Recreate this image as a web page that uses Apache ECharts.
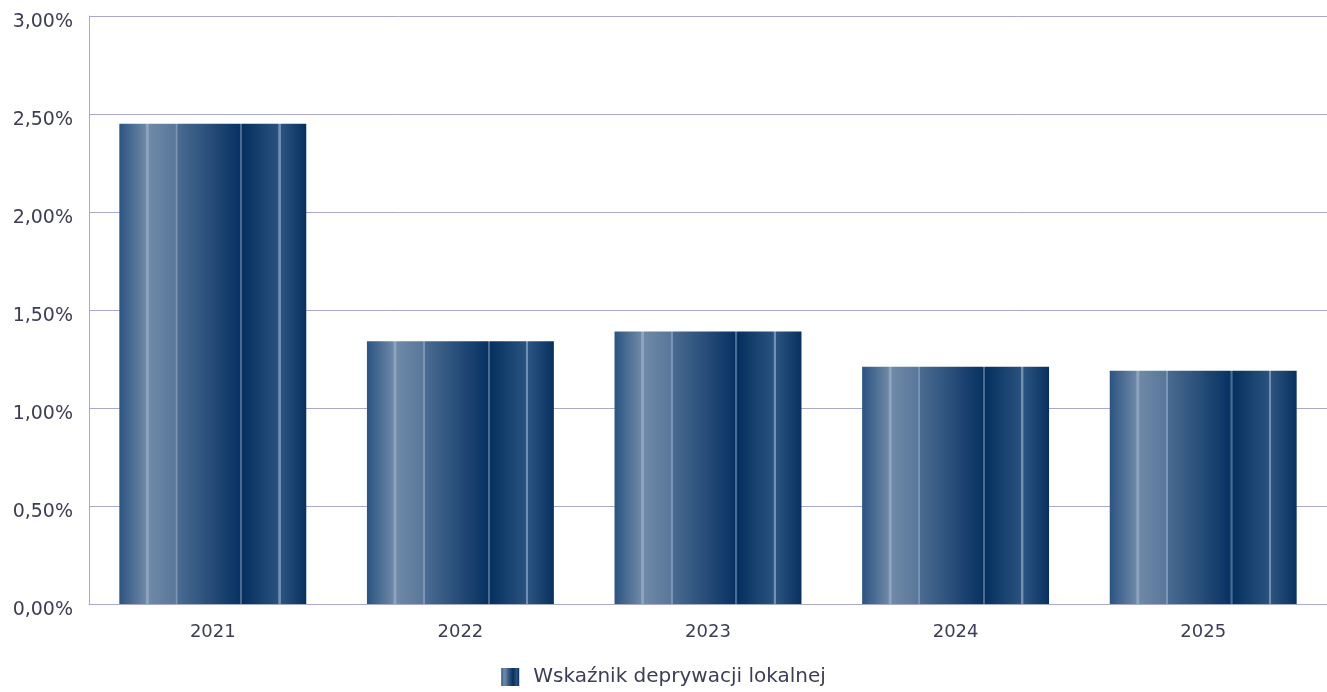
<!DOCTYPE html>
<html>
<head>
<meta charset="utf-8">
<script src="https://cdn.jsdelivr.net/npm/echarts@6/dist/echarts.min.js"></script>
<style>
html,body{margin:0;padding:0;background:#fff;}
#c{width:1327px;height:692px;}
</style>
</head>
<body>
<div id="c"></div>
<script>
const categories = ['2021', '2022', '2023', '2024', '2025'];
const values = [2.45, 1.34, 1.39, 1.21, 1.19];
const seriesName = 'Wskaźnik deprywacji lokalnej';
const yTicks = { min: 0, max: 3, interval: 0.5 };

const barGradient = new echarts.graphic.LinearGradient(0, 0, 1, 0, [
  { offset: 0.00, color: '#2b5482' },
  { offset: 0.140, color: '#6d87a6' },
  { offset: 0.145, color: '#8ea4be' },
  { offset: 0.155, color: '#8ea4be' },
  { offset: 0.160, color: '#6f89a7' },
  { offset: 0.300, color: '#59779a' },
  { offset: 0.302, color: '#7d95b2' },
  { offset: 0.310, color: '#7d95b2' },
  { offset: 0.312, color: '#4a6b91' },
  { offset: 0.645, color: '#073262' },
  { offset: 0.647, color: '#4a6c93' },
  { offset: 0.656, color: '#4a6c93' },
  { offset: 0.658, color: '#05305f' },
  { offset: 0.850, color: '#29527e' },
  { offset: 0.852, color: '#7390b0' },
  { offset: 0.862, color: '#7390b0' },
  { offset: 0.864, color: '#2b5481' },
  { offset: 1.00, color: '#07305e' }
]);

const chart = echarts.init(document.getElementById('c'));
const textColor = '#3d3d55';
const font = '"DejaVu Sans", Verdana, sans-serif';
chart.setOption({
  animation: false,
  backgroundColor: '#ffffff',
  grid: { left: 89, right: 0, top: 16, bottom: 88, containLabel: false },
  legend: {
    bottom: 0,
    left: 'center',
    itemWidth: 18,
    itemHeight: 18,
    itemGap: 10,
    icon: 'rect',
    textStyle: { color: textColor, fontSize: 20, fontFamily: font, padding: [0, 0, 0, 9] },
    data: [seriesName]
  },
  xAxis: {
    type: 'category',
    data: categories,
    axisLine: { show: true, lineStyle: { color: '#a9a9cc', width: 1 } },
    axisTick: { show: false },
    axisLabel: { color: textColor, fontSize: 18, fontFamily: font, margin: 19 }
  },
  yAxis: {
    type: 'value',
    min: yTicks.min,
    max: yTicks.max,
    interval: yTicks.interval,
    axisLine: { show: true, lineStyle: { color: '#a9a9cc', width: 1 } },
    axisTick: { show: false },
    splitLine: { show: true, lineStyle: { color: '#a9a9cc', width: 1 } },
    axisLabel: {
      color: textColor, fontSize: 19, fontFamily: font, margin: 16,
      formatter: v => '{a|' + v.toFixed(2).replace('.', ',') + '%}',
      rich: {
        a: { color: textColor, fontSize: 19, fontFamily: font, padding: [12, 0, 0, 0] }
      }
    }
  },
  series: [{
    name: seriesName,
    type: 'bar',
    data: values,
    barWidth: '75.5%',
    itemStyle: { color: barGradient }
  }]
});
</script>
</body>
</html>
